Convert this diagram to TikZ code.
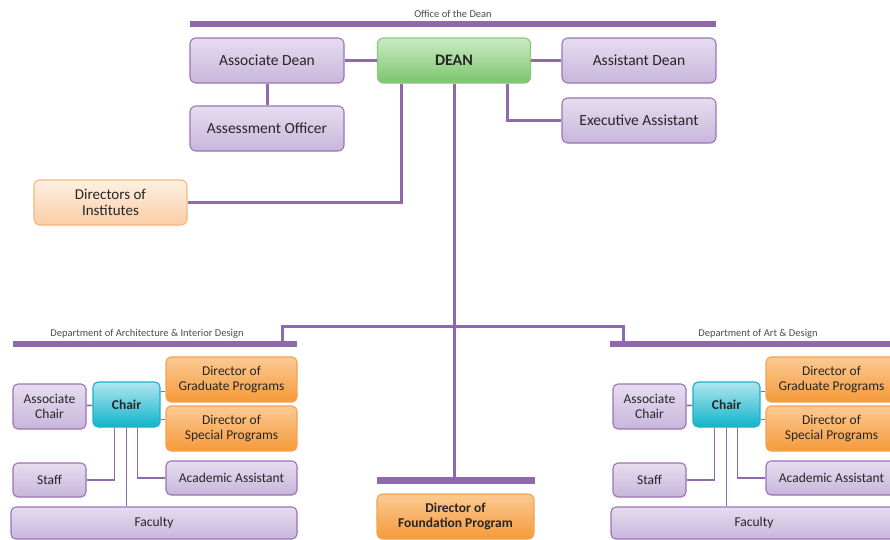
\documentclass[tikz,border=0pt]{standalone}
\usepackage{fontspec}
\setmainfont{Carlito}
\usetikzlibrary{calc}
\definecolor{linkpurple}{HTML}{9069AD}
\definecolor{purpleedge}{HTML}{9C72B8}
\definecolor{purpletop}{HTML}{E6DDF0}
\definecolor{purplebot}{HTML}{C8B6DB}
\definecolor{greenedge}{HTML}{86CA79}
\definecolor{greentop}{HTML}{CBEBC5}
\definecolor{greenbot}{HTML}{7BC56C}
\definecolor{cyanedge}{HTML}{1FAFC5}
\definecolor{cyantop}{HTML}{B0E5F0}
\definecolor{cyanbot}{HTML}{10B5CB}
\definecolor{orangeedge}{HTML}{F6A24C}
\definecolor{orangetop}{HTML}{FCCA93}
\definecolor{orangebot}{HTML}{F59A3A}
\definecolor{peachedge}{HTML}{F8B57A}
\definecolor{peachtop}{HTML}{FEF0E3}
\definecolor{peachbot}{HTML}{FBCDA5}
\colorlet{boxtext}{black!85}
\tikzstyle{box}=[draw,rounded corners=6pt,line width=1.1pt,inner sep=1pt,align=center,text=boxtext]
\tikzstyle{unitbox}=[box,minimum width=154pt,minimum height=45pt,font=\fontsize{15.5}{17}\selectfont]
\tikzstyle{deptbox}=[box,rounded corners=5pt,font=\fontsize{13.5}{14.5}\selectfont]
\tikzstyle{purple}=[draw=purpleedge,top color=purpletop,bottom color=purplebot]
\tikzstyle{green}=[draw=greenedge,top color=greentop,bottom color=greenbot]
\tikzstyle{cyan}=[draw=cyanedge,top color=cyantop,bottom color=cyanbot]
\tikzstyle{orange}=[draw=orangeedge,top color=orangetop,bottom color=orangebot]
\tikzstyle{peach}=[draw=peachedge,top color=peachtop,bottom color=peachbot]
\tikzstyle{bar}=[fill=linkpurple,inner sep=0pt,minimum height=6.5pt]
\tikzstyle{barlabel}=[anchor=south,inner sep=3pt,text=black!70,font=\fontsize{10.5}{12}\selectfont]
\tikzstyle{link}=[draw=linkpurple,line width=3pt]
\tikzstyle{thinlink}=[draw=linkpurple,line width=1.6pt]
\begin{document}
\begin{tikzpicture}[x=1pt,y=-1pt]
  \useasboundingbox (0,0) rectangle (890,539);
  \clip (0,0) rectangle (890,539);

  % office of the dean
  \node[bar,minimum width=526pt] (deanbar) at (453,24) {};
  \node[barlabel] (deanlabel) at (deanbar.north) {Office of the Dean};

  \node[unitbox,purple] (assocdean) at (267,60.5) {Associate Dean};
  \node[unitbox,green,minimum width=153pt,font=\fontsize{16}{18}\selectfont\bfseries] (dean) at (454,60.5) {DEAN};
  \node[unitbox,purple] (asstdean) at (639,60.5) {Assistant Dean};
  \node[unitbox,purple] (assess) at (267,128.5) {Assessment Officer};
  \node[unitbox,purple] (exec) at (639,120.5) {Executive Assistant};
  \node[unitbox,peach,minimum width=153pt,font=\fontsize{15}{16}\selectfont] (inst) at (110.5,202.5) {Directors of\\Institutes};

  \draw[link] (assocdean) -- (dean);
  \draw[link] (dean) -- (asstdean);
  \draw[link] (assocdean) -- (assess);
  \draw[link] ([xshift=53pt]dean.south) |- (exec.west);
  \draw[link] ([xshift=-53pt]dean.south) |- (inst.east);

  % foundation program
  \node[bar,minimum width=158pt] (foundbar) at (456,480.5) {};
  \node[unitbox,orange,minimum width=157pt,font=\fontsize{13.5}{14.5}\selectfont\bfseries] (found) at (455.5,516.5) {Director of\\Foundation Program};
  \draw[link] (dean.south) -- (dean.south |- foundbar.north);

  % departments
  \node[bar,minimum width=284pt] (archbar) at (155,344) {};
  \node[barlabel,inner sep=6pt] (archlabel) at (147,344) {Department of Architecture \& Interior Design};
  \node[bar,minimum width=290pt] (artbar) at (755,344) {};
  \node[barlabel,inner sep=6pt] (artlabel) at (758,344) {Department of Art \& Design};
  \coordinate (fork) at (dean.south |- 0,326);
  \draw[link] ([xshift=-15pt]archbar.north east) |- (fork) -| ([xshift=14pt]artbar.north west);

  \foreach \d/\dx in {arch/0,art/600}{
    \begin{scope}[xshift=\dx]
      \node[deptbox,purple,minimum width=73pt,minimum height=45pt] (\d-achair) at (49.5,406.5) {Associate\\Chair};
      \node[deptbox,cyan,minimum width=67pt,minimum height=45pt,font=\fontsize{13.5}{14.5}\selectfont\bfseries] (\d-chair) at (126.5,404.5) {Chair};
      \node[deptbox,orange,minimum width=131pt,minimum height=45pt] (\d-grad) at (231.5,379.5) {Director of\\Graduate Programs};
      \node[deptbox,orange,minimum width=131pt,minimum height=45pt] (\d-spec) at (231.5,428.5) {Director of\\Special Programs};
      \node[deptbox,purple,minimum width=73pt,minimum height=34pt] (\d-staff) at (49.5,480) {Staff};
      \node[deptbox,purple,minimum width=131pt,minimum height=34pt] (\d-acad) at (231.5,478) {Academic Assistant};
      \node[deptbox,purple,minimum width=286pt,minimum height=32pt] (\d-fac) at (154,523) {Faculty};
    \end{scope}
    \coordinate (\d-g) at ([yshift=13pt]\d-chair.east);
    \coordinate (\d-s) at ([yshift=-15pt]\d-chair.east);
    \draw[thinlink] (\d-achair) -- (\d-chair);
    \draw[thinlink] (\d-g) -- (\d-g -| \d-grad.west);
    \draw[thinlink] (\d-s) -- (\d-s -| \d-spec.west);
    \draw[thinlink] ([xshift=-12pt]\d-chair.south) |- (\d-staff.east);
    \draw[thinlink] ([xshift=11pt]\d-chair.south) |- (\d-acad.west);
    \draw[thinlink] (\d-chair.south) -- (\d-chair.south |- \d-fac.north);
  }
\end{tikzpicture}
\end{document}
